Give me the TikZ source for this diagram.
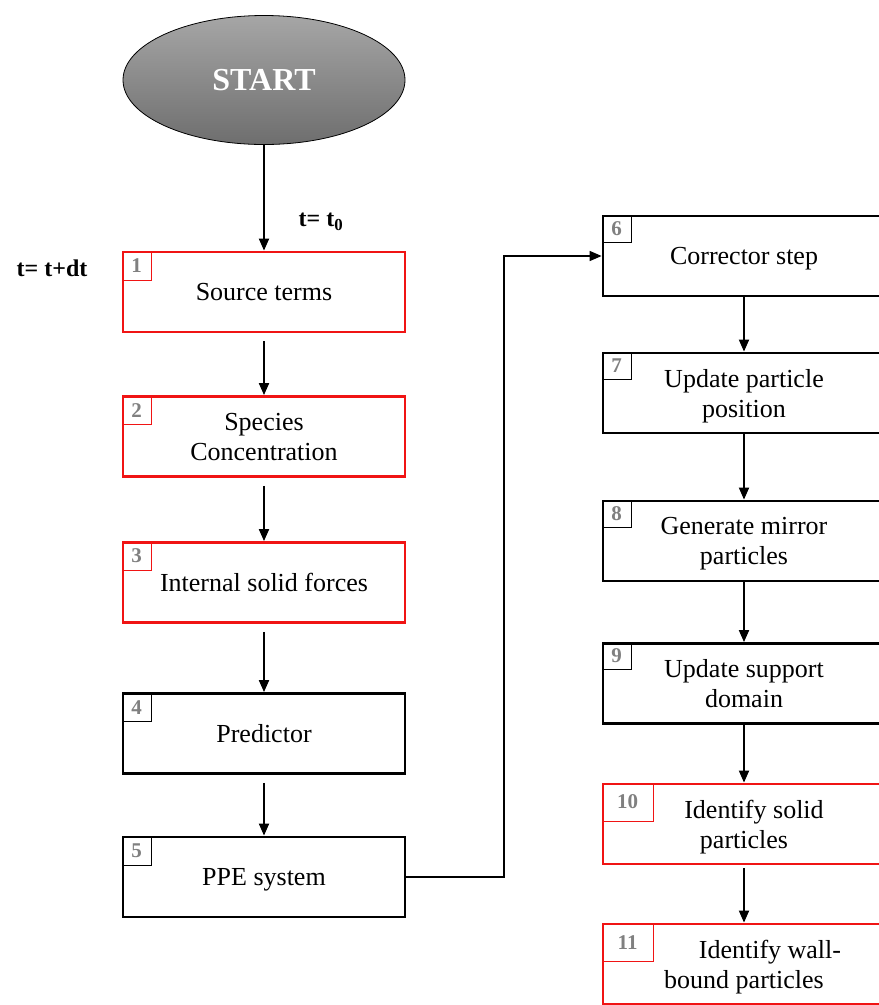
\documentclass[tikz,border=0pt]{standalone}
\usepackage{fontspec}
\setmainfont{Liberation Serif}
\usetikzlibrary{arrows.meta,shapes.geometric,positioning}

\definecolor{boxred}{RGB}{240,20,20}
\definecolor{taggray}{RGB}{128,128,128}
\definecolor{starttop}{RGB}{166,166,166}
\definecolor{startbot}{RGB}{110,110,110}

\tikzset{
  stepbox/.style={draw, line width=2.8pt, minimum width=282pt, minimum height=80pt,
    inner sep=0pt, align=center, text depth=0pt, font=\fontsize{26}{30}\selectfont},
  redbox/.style={stepbox, draw=boxred},
  blackbox/.style={stepbox, draw=black},
  tagbox/.style={draw, line width=1pt, anchor=north west, inner sep=0pt,
    minimum width=29pt, minimum height=29pt, text=taggray,
    font=\fontsize{21}{21}\selectfont\bfseries},
  flow/.style={line width=1.8pt, -{Triangle[length=12pt,width=10pt]}},
  timelabel/.style={font=\fontsize{24}{24}\selectfont\bfseries}
}

\begin{document}
\begin{tikzpicture}[x=1pt,y=-1pt]

      % keep the page at 879 x 1005
      \clip (0,0) rectangle (879,1005);
      \fill[white] (0,0) rectangle (879,1005);

      % the start ellipse
      \node[ellipse, draw=black, line width=0.8pt, top color=starttop, bottom color=startbot,
            minimum width=282pt, minimum height=129pt, inner sep=0pt,
            text=white, font=\fontsize{32}{32}\selectfont\bfseries] (start) at (264,80) {START};

      %% left column: steps 1 to 5
      \node[redbox]   (b1) at (264,292)   {Source terms};
      \node[redbox]   (b2) at (264,436.5) {Species\\Concentration};
      \node[redbox]   (b3) at (264,582.5) {Internal solid forces};
      \node[blackbox] (b4) at (264,733.5) {Predictor};
      \node[blackbox] (b5) at (264,877)   {PPE system};

      %% right column: steps 6 to 11, cut by the page edge
      \node[blackbox] (b6)  at (744,256)   {Corrector step};
      \node[blackbox] (b7)  at (744,393)   {Update particle\\position};
      \node[blackbox] (b8)  at (744,541)   {Generate mirror\\particles};
      \node[blackbox] (b9)  at (744,683.5) {Update support\\domain};
      \node[redbox]   (b10) at (744,824)   {\hspace*{20pt}Identify solid\\particles};
      \node[redbox]   (b11) at (744,964)   {\hspace*{52pt}Identify wall-\\bound particles};

      % number tags in the corners
      \node[tagbox, draw=boxred] (t1) at (b1.north west) {1};
      \node[tagbox, draw=boxred] (t2) at (b2.north west) {2};
      \node[tagbox, draw=boxred] (t3) at (b3.north west) {3};
      \node[tagbox, draw=black]  (t4) at (b4.north west) {4};
      \node[tagbox, draw=black]  (t5) at (b5.north west) {5};
      \node[tagbox, draw=black, minimum height=27pt] (t6) at (b6.north west) {6};
      \node[tagbox, draw=black, minimum height=27pt] (t7) at (b7.north west) {7};
      \node[tagbox, draw=black, minimum height=27pt] (t8) at (b8.north west) {8};
      \node[tagbox, draw=black, minimum height=27pt] (t9) at (b9.north west) {9};
      \node[tagbox, draw=boxred, minimum width=51pt, minimum height=38pt] (t10) at (b10.north west) {10};
      \node[tagbox, draw=boxred, minimum width=51pt, minimum height=38pt] (t11) at (b11.north west) {11};

      % time labels
      \node[timelabel] (tzero) at (321,222) {t= t\textsubscript{0}};
      \node[timelabel] (tnext) at (52,268)  {t= t+dt};

      %Now the arrows
      \draw[flow] (start) -- (b1);
      \draw[flow, shorten <=8pt] (b1) -- (b2);
      \draw[flow, shorten <=8pt] (b2) -- (b3);
      \draw[flow, shorten <=8pt] (b3) -- (b4);
      \draw[flow, shorten <=8pt] (b4) -- (b5);

      %% from PPE system over to the corrector step
      \coordinate (turn) at (504,877);
      \draw[line width=1.5pt, -{Triangle[length=12pt,width=10pt]}] (b5.east) -- (turn) |- (b6.west);

      \draw[flow] (b6) -- (b7);
      \draw[flow] (b7) -- (b8);
      \draw[flow] (b8) -- (b9);
      \draw[flow] (b9) -- (b10);
      \draw[flow, shorten <=3pt] (b10) -- (b11);

    \end{tikzpicture}
\end{document}
